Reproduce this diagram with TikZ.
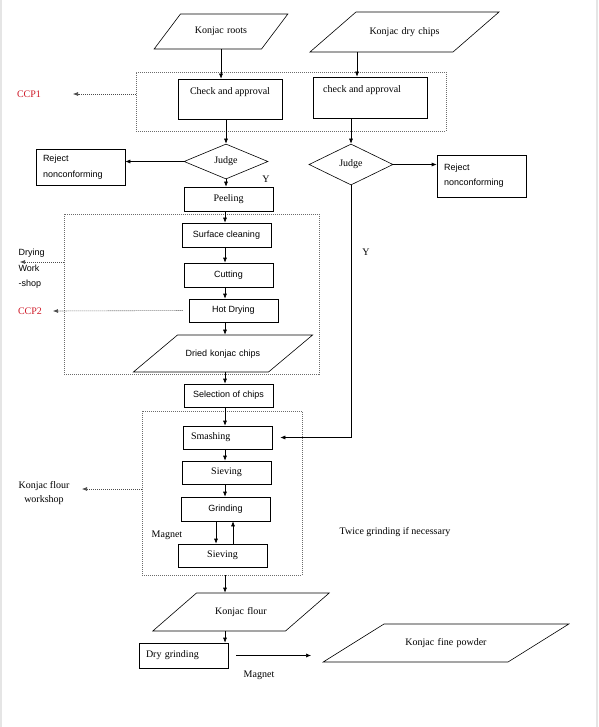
\documentclass[tikz,border=0pt]{standalone}
\usepackage{fontspec}
\setmainfont{Liberation Serif}
\setsansfont{Liberation Sans}
\usetikzlibrary{shapes.geometric,arrows.meta}
\definecolor{ccpred}{RGB}{206,24,38}
\tikzset{
  rm/.style={font=\fontsize{10}{12}\selectfont},
  sf/.style={font=\sffamily\fontsize{9}{11}\selectfont},
  proc/.style={draw, line width=0.6pt, inner sep=0pt},
  io/.style={trapezium, draw, line width=0.6pt, inner xsep=0pt, text height=7pt, text depth=2pt, align=center},
  judge/.style={diamond, draw, line width=0.6pt, inner sep=0pt, text height=7pt, text depth=2pt, rm},
  group/.style={draw=gray!85!black, line width=0.5pt, dash pattern=on 1pt off 1pt, inner sep=0pt},
  arr/.style={-{Latex[length=5pt,width=4pt]}, line width=0.6pt},
  darr/.style={arr, draw=gray!60!black, dash pattern=on 1pt off 1pt},
}
\begin{document}
\begin{tikzpicture}[x=1pt, y=-1pt]
	\useasboundingbox (0,0) rectangle (598,727);
	\fill[gray!20] (0,0) rectangle (1.5,727);
	\fill[gray!20] (596,0) rectangle (598,727);
	\coordinate (spine) at (225,0);
	% dashed workshop areas
	\node[group, minimum width=310pt, minimum height=59pt] (g1) at (291,101.5) {};
	\node[group, minimum width=255pt, minimum height=160pt] (g2) at (191.5,294) {};
	\node[group, minimum width=160pt, minimum height=164pt] (g3) at (222,493) {};
	% raw materials
	\node[io, rm, text width=81pt, inner ysep=13pt, trapezium left angle=53, trapezium right angle=127] (roots) at (221,31.5) {Konjac roots};
	\node[io, rm, text width=97pt, inner ysep=15.5pt, trapezium left angle=41, trapezium right angle=139] (drychips) at (404.5,32) {Konjac dry chips};
	% check
	\node[proc, minimum width=104pt, minimum height=40pt] (chk1) at (230,99) {};
	\node[rm] (chk1txt) at ([yshift=7pt]chk1.center) {Check and approval};
	\node[proc, minimum width=114pt, minimum height=41pt] (chk2) at (370,97.5) {};
	\node[rm, anchor=west] (chk2txt) at ([xshift=7pt, yshift=7.5pt]chk2.west) {check and approval};
	\node[judge, minimum width=84pt, minimum height=35pt] (judge1) at (226,161.5) {Judge};
	\node[judge, minimum width=84pt, minimum height=41pt] (judge2) at (351,164.5) {Judge};
	\node[proc, sf, font=\sffamily\fontsize{9}{16}\selectfont, minimum width=89pt, minimum height=36pt, text width=75pt, align=left] (rej1) at (80.5,167) {Reject\\nonconforming};
	\node[proc, sf, font=\sffamily\fontsize{9}{15}\selectfont, minimum width=89pt, minimum height=42pt, text width=75pt, align=left] (rej2) at (481.5,176) {Reject\\nonconforming};
	% drying line
	\node[proc, rm, minimum width=89pt, minimum height=24pt] (peel) at (228.5,199) {Peeling};
	\node[proc, sf, minimum width=89pt, minimum height=24pt] (surf) at (226.5,235) {Surface cleaning};
	\node[proc, sf, minimum width=89pt, minimum height=24pt] (cut) at (228.5,275) {Cutting};
	\node[proc, sf, minimum width=89pt, minimum height=23pt] (hot) at (233.5,310.5) {Hot Drying};
	\node[io, sf, text width=91pt, inner ysep=14pt, trapezium left angle=40, trapezium right angle=140] (dried) at (223,353.5) {Dried konjac chips};
	\node[proc, sf, minimum width=89pt, minimum height=23pt] (sel) at (228.5,395.5) {Selection of chips};
	% flour line
	\node[proc, rm, minimum width=89pt, minimum height=23pt, text width=73pt, align=left] (smash) at (227.5,437.5) {Smashing};
	\node[proc, rm, minimum width=89pt, minimum height=23pt] (siev1) at (226.5,472.5) {Sieving};
	\node[proc, sf, minimum width=89pt, minimum height=24pt] (grind) at (225.5,509) {Grinding};
	\node[proc, rm, minimum width=89pt, minimum height=23pt] (siev2) at (222.5,555.5) {Sieving};
	\node[io, rm, text width=89pt, inner ysep=14.5pt, trapezium left angle=41, trapezium right angle=139] (flour) at (241,612) {Konjac flour};
	\node[proc, rm, minimum width=89pt, minimum height=25pt, text width=75pt, align=left] (dry) at (183.5,655.5) {Dry grinding};
	\node[io, rm, text width=124pt, inner ysep=14.5pt, trapezium left angle=32, trapezium right angle=148] (fine) at (446,643) {Konjac fine powder};
	% side labels
	\node[rm, text=ccpred] (ccp1) at (29,94) {CCP1};
	\node[rm, text=ccpred] (ccp2) at (30,311) {CCP2};
	\node[sf, font=\sffamily\fontsize{9}{15.5}\selectfont, anchor=west, align=left] (dryws) at (15,269) {Drying\\Work\\-shop};
	\node[rm, font=\fontsize{10}{14}\selectfont, align=center] (flourws) at (44,493) {Konjac flour\\workshop};
	\node[rm] (mag1) at (167,535) {Magnet};
	\node[rm] (twice) at (395,532) {Twice grinding if necessary};
	\node[rm] (mag2) at (259,675) {Magnet};
	\node[rm] (y1) at (266,179) {Y};
	\node[rm] (y2) at (366,252) {Y};
	\coordinate (ccp1tip) at (73,94);
	\coordinate (ccp2tip) at (53,311);
	\coordinate (drytip) at (20,262);
	\coordinate (flourtip) at (82,489);
	% connectors
	\draw[arr] (roots.south) -- (roots.south |- chk1.north);
	\draw[arr] ([xshift=-13pt]chk2.north |- drychips.south) -- ([xshift=-13pt]chk2.north);
	\draw[arr] (judge1.north |- chk1.south) -- (judge1.north);
	\draw[arr] (judge2.north |- chk2.south) -- (judge2.north);
	\draw[arr] (judge1.west) -- (judge1.west -| rej1.east);
	\draw[arr] (judge2.east) -- (judge2.east -| rej2.west);
	\draw[arr] (judge1.south) -- (judge1.south |- peel.north);
	\draw[arr] (spine |- peel.south) -- (spine |- surf.north);
	\draw[arr] (spine |- surf.south) -- (spine |- cut.north);
	\draw[arr] (spine |- cut.south) -- (spine |- hot.north);
	\draw[arr] (spine |- hot.south) -- (spine |- dried.north);
	\draw[arr] (spine |- dried.south) -- (spine |- sel.north);
	\draw[arr] (spine |- sel.south) -- (spine |- smash.north);
	\draw[arr] (spine |- smash.south) -- (spine |- siev1.north);
	\draw[arr] (spine |- siev1.south) -- (spine |- grind.north);
	\draw[arr] ([xshift=-9.5pt]grind.south) -- ([xshift=-9.5pt]grind.south |- siev2.north);
	\draw[arr] ([xshift=7.5pt]grind.south |- siev2.north) -- ([xshift=7.5pt]grind.south);
	\draw[arr] (spine |- g3.south) -- (spine |- flour.north);
	\draw[arr] (spine |- flour.south) -- (spine |- dry.north);
	\draw[arr, shorten <=8pt, shorten >=11pt] (dry.east) -- (dry.east -| fine.bottom left corner);
	\draw[arr, shorten >=8pt] (judge2.south) |- (smash.east);
	% dotted pointers
	\draw[darr] (g1.west |- ccp1tip) -- (ccp1tip);
	\draw[darr] (g2.west |- drytip) -- (drytip);
	\draw[darr, shorten <=6pt] (hot.west) -- (ccp2tip);
	\draw[darr] (g3.west |- flourtip) -- (flourtip);
\end{tikzpicture}
\end{document}
